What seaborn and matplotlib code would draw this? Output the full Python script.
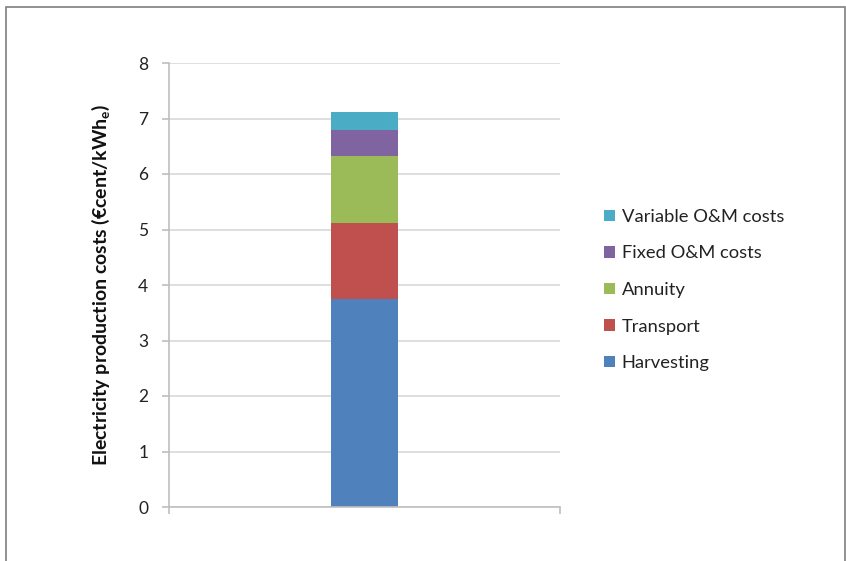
import matplotlib
matplotlib.use("Agg")
import matplotlib.pyplot as plt
from matplotlib.patches import Patch, Rectangle
import pandas as pd
import seaborn as sns

# Cost components (bottom to top of the stack), €cent/kWh_e
components = ["Harvesting", "Transport", "Annuity", "Fixed O&M costs", "Variable O&M costs"]
values = [3.75, 1.37, 1.21, 0.46, 0.32]
colors = ["#4F81BD", "#C0504D", "#9BBB59", "#8064A2", "#4BACC6"]
category = [""]
yticks = [0, 1, 2, 3, 4, 5, 6, 7, 8]

sns.set_theme(style="white")
plt.rcParams["font.family"] = ["Lato", "DejaVu Sans"]

fig = plt.figure(figsize=(8.46, 5.61), dpi=100)
ax = fig.add_axes([169 / 846, 1 - 507 / 561, (560 - 169) / 846, (507 - 63) / 561])

# cumulative tops, drawn from tallest to shortest so each segment shows
tops = []
running = 0.0
for v in values:
    running += v
    tops.append(running)

for name, top, col in reversed(list(zip(components, tops, colors))):
    df = pd.DataFrame({"cat": category, "val": [top]})
    sns.barplot(data=df, x="cat", y="val", color=col, saturation=1,
                width=0.171, ax=ax, linewidth=0)

ax.set_xlim(-0.5, 0.5)
ax.set_ylim(0, 8)
ax.set_yticks(yticks)
ax.set_yticklabels([str(t) for t in yticks], fontsize=12.5, color="#222222")
ax.set_xticks([-0.5, 0.5])
ax.set_xticklabels(["", ""])
ax.set_xlabel("")
ax.set_ylabel("Electricity production costs (€cent/kWh$_\\mathregular{e}$)",
              fontsize=14, fontweight="bold", color="#111111", labelpad=19)

ax.grid(axis="y", color="#D9D9D9", linewidth=1.2)
ax.set_axisbelow(True)
for side in ["top", "right"]:
    ax.spines[side].set_visible(False)
for side in ["left", "bottom"]:
    ax.spines[side].set_color("#BFBFBF")
    ax.spines[side].set_linewidth(1.2)
ax.tick_params(axis="y", length=5, color="#BFBFBF", width=1.2, pad=10, left=True)
ax.tick_params(axis="x", length=5, color="#BFBFBF", width=1.2, bottom=True)

handles = [Patch(facecolor=c, edgecolor="none", label=n)
           for n, c in zip(components, colors)]
fig.legend(handles=list(reversed(handles)), loc="center left",
           bbox_to_anchor=(587 / 846, 1 - 290 / 561), frameon=False,
           fontsize=13.2, handlelength=0.6, handleheight=0.6,
           handletextpad=0.4, labelspacing=1.12, labelcolor="#222222")

# outer chart frame
fig.patches.append(Rectangle((5.5 / 846, -0.1), (845 - 5.5) / 846, 1.1 - 7 / 561,
                             transform=fig.transFigure, fill=False,
                             edgecolor="#7F7F7F", linewidth=1.2))

fig.savefig("out.png", dpi=100)
